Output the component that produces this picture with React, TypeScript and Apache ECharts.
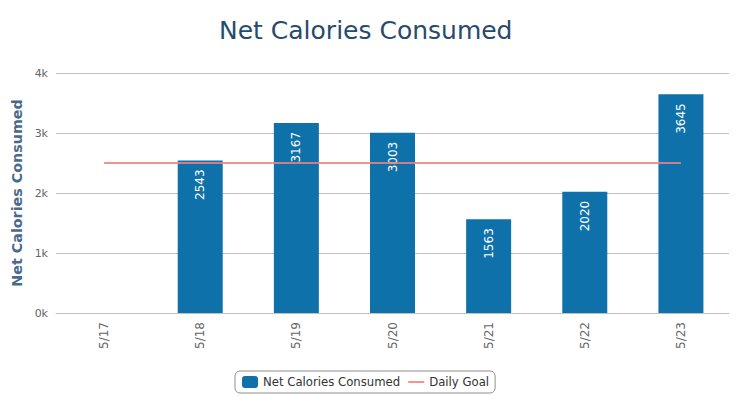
import React, { useEffect, useRef } from "react";
import * as echarts from "echarts";

const categories = ["5/17", "5/18", "5/19", "5/20", "5/21", "5/22", "5/23"];
const netCalories: (number | null)[] = [null, 2543, 3167, 3003, 1563, 2020, 3645];
const dailyGoal = [2500, 2500, 2500, 2500, 2500, 2500, 2500];

const FONT = "DejaVu Sans";
const LINE_ICON =
  "path://M0,0 L0.01,0 L0.01,0.01 L0,0.01 Z M0,5 L16,5 L16,7 L0,7 Z M15.99,11.99 L16,11.99 L16,12 L15.99,12 Z";

export default function App() {
  const ref = useRef<HTMLDivElement>(null);
  useEffect(() => {
    const chart = echarts.init(ref.current!, null, { renderer: "svg" });
    chart.setOption({
      animation: false,
      textStyle: { fontFamily: FONT },
      title: {
        text: "Net Calories Consumed",
        left: 214,
        top: 13,
        textStyle: { fontFamily: FONT, fontSize: 25, fontWeight: "normal", color: "#274b6d" },
      },
      grid: { left: 56, right: 18, top: 73, bottom: 83 },
      legend: {
        bottom: 3,
        left: 235,
        borderColor: "#909090",
        borderWidth: 1,
        borderRadius: 5,
        padding: [5, 6, 5, 7],
        itemGap: 8,
        itemWidth: 16,
        itemHeight: 12,
        textStyle: { fontFamily: FONT, fontSize: 11.7, color: "#333" },
        data: [
          { name: "Net Calories Consumed", icon: "roundRect" },
          { name: "Daily Goal", icon: LINE_ICON, itemStyle: { color: "#f08080", opacity: 0.85 } },
        ],
      },
      xAxis: {
        type: "category",
        data: categories,
        boundaryGap: true,
        axisLine: { lineStyle: { color: "#c0c0c0" } },
        axisTick: { alignWithLabel: true, length: 5, lineStyle: { color: "#c0c0c0" } },
        axisLabel: { rotate: 90, color: "#666", fontSize: 12, margin: 9, fontFamily: FONT },
      },
      yAxis: {
        type: "value",
        min: 0,
        max: 4000,
        interval: 1000,
        name: "Net Calories Consumed",
        nameLocation: "middle",
        nameGap: 29,
        nameTextStyle: { color: "#4a6a8c", fontSize: 14.3, fontWeight: "bold", fontFamily: FONT },
        axisLine: { show: false },
        axisTick: { show: false },
        splitLine: { lineStyle: { color: "#c0c0c0" } },
        axisLabel: {
          color: "#666",
          fontSize: 11,
          margin: 8,
          fontFamily: FONT,
          formatter: (v: number) => v / 1000 + "k",
        },
      },
      series: [
        {
          name: "Net Calories Consumed",
          type: "bar",
          data: netCalories,
          barWidth: 45,
          itemStyle: { color: "#0f71aa" },
          label: {
            show: true,
            position: "insideTop",
            rotate: 90,
            align: "right",
            verticalAlign: "middle",
            distance: 9,
            color: "#fff",
            fontSize: 12,
            fontFamily: FONT,
          },
          z: 2,
        },
        {
          name: "Daily Goal",
          type: "line",
          data: dailyGoal,
          symbol: "none",
          lineStyle: { color: "#f08080", width: 2, opacity: 0.85 },
          itemStyle: { color: "#f08080" },
          z: 3,
        },
      ],
    });
    return () => chart.dispose();
  }, []);
  return (
    <div
      ref={ref}
      style={{ position: "absolute", left: 0, top: 0, width: 747, height: 396 }}
    />
  );
}
